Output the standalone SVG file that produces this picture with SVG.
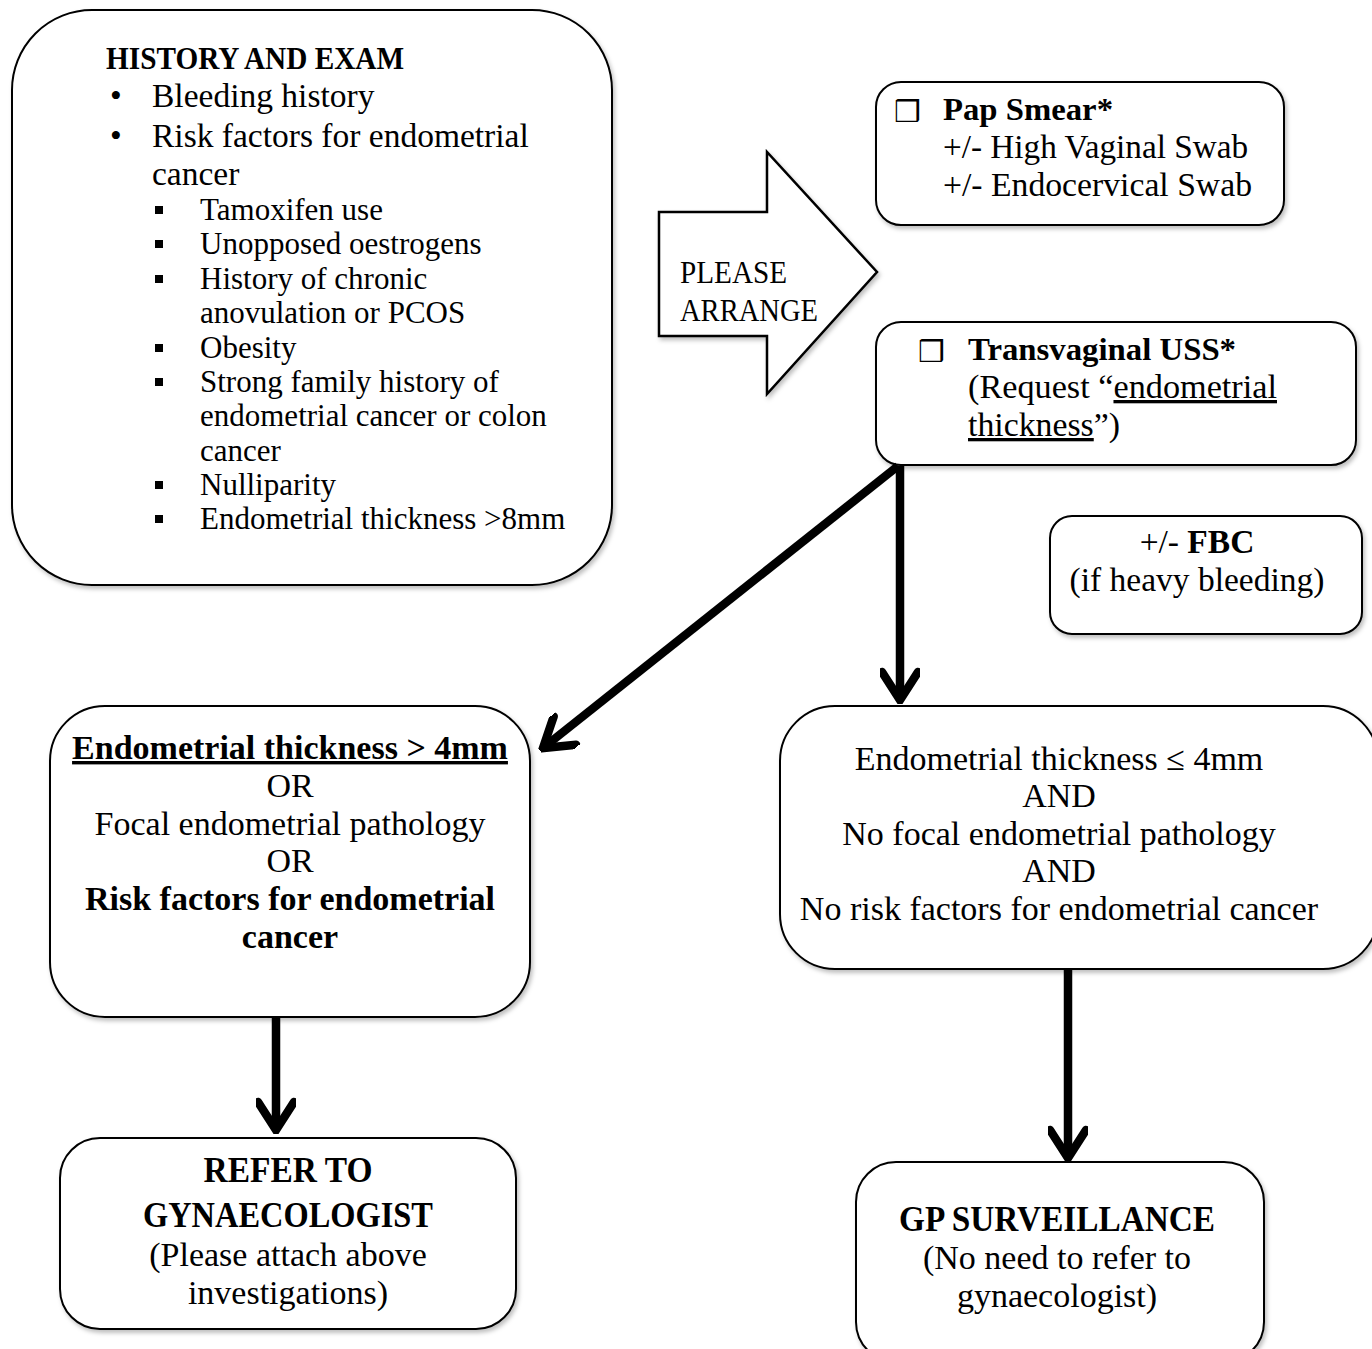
<svg xmlns="http://www.w3.org/2000/svg" width="1372" height="1349" viewBox="0 0 1372 1349">
<style>
.box{fill:#fff;stroke:#000;stroke-width:2;filter:url(#sh)}
text{font-family:"Liberation Serif","Times New Roman",serif;fill:#000}
.b{font-weight:bold}
.m{text-anchor:middle}
.t34{font-size:34px}
.t33{font-size:33.5px}
.t31{font-size:31px}
.conn{stroke:#000;stroke-width:8.5;fill:none;marker-end:url(#chev)}
.chk{font-family:"DejaVu Sans",sans-serif;font-size:30px;font-weight:bold}
</style>
<defs>
<filter id="sh" x="-10%" y="-10%" width="120%" height="120%">
<feDropShadow dx="2" dy="3" stdDeviation="2" flood-color="#000" flood-opacity="0.25"/>
</filter>
<marker id="chev" viewBox="0 0 40 40" refX="36" refY="20" markerWidth="40" markerHeight="40" markerUnits="userSpaceOnUse" orient="auto">
<path d="M8,2 L36,20 L8,38" fill="none" stroke="#000" stroke-width="8.5" stroke-linecap="round" stroke-linejoin="miter"/>
</marker>
</defs>
<rect width="1372" height="1349" fill="#fff"/>

<g id="history">
<rect class="box" x="12" y="10" width="600" height="575" rx="80"/>
<text class="b" x="106" y="69" font-size="31" textLength="298" lengthAdjust="spacingAndGlyphs">HISTORY AND EXAM</text>
<text class="t33" x="110" y="107">•</text>
<text class="t33" x="152" y="107">Bleeding history</text>
<text class="t33" x="110" y="147">•</text>
<text class="t33" x="152" y="147">Risk factors for endometrial</text>
<text class="t33" x="152" y="185">cancer</text>
<g fill="#000">
<rect x="155" y="206" width="8" height="8"/>
<rect x="155" y="240" width="8" height="8"/>
<rect x="155" y="275" width="8" height="8"/>
<rect x="155" y="344" width="8" height="8"/>
<rect x="155" y="378" width="8" height="8"/>
<rect x="155" y="481" width="8" height="8"/>
<rect x="155" y="515" width="8" height="8"/>
</g>
<text class="t31" x="200" y="220">Tamoxifen use</text>
<text class="t31" x="200" y="254">Unopposed oestrogens</text>
<text class="t31" x="200" y="289">History of chronic</text>
<text class="t31" x="200" y="323">anovulation or PCOS</text>
<text class="t31" x="200" y="358">Obesity</text>
<text class="t31" x="200" y="392">Strong family history of</text>
<text class="t31" x="200" y="426">endometrial cancer or colon</text>
<text class="t31" x="200" y="461">cancer</text>
<text class="t31" x="200" y="495">Nulliparity</text>
<text class="t31" x="200" y="529">Endometrial thickness &gt;8mm</text>
</g>

<g id="arrange">
<polygon points="659,212 767,212 767,152 877,272 767,394 767,336 659,336" fill="#fff" stroke="#000" stroke-width="2.5" filter="url(#sh)"/>
<text x="680" y="283" font-size="32" textLength="107" lengthAdjust="spacingAndGlyphs">PLEASE</text>
<text x="680" y="321" font-size="32" textLength="138" lengthAdjust="spacingAndGlyphs">ARRANGE</text>
</g>

<g id="pap">
<rect class="box" x="876" y="82" width="408" height="143" rx="25"/>
<text class="chk" x="894" y="122">❒</text>
<text class="b" x="943" y="120" font-size="32" textLength="170" lengthAdjust="spacingAndGlyphs">Pap Smear*</text>
<text x="943" y="158" font-size="33" textLength="305" lengthAdjust="spacingAndGlyphs">+/- High Vaginal Swab</text>
<text x="943" y="196" font-size="33" textLength="309" lengthAdjust="spacingAndGlyphs">+/- Endocervical Swab</text>
</g>

<g id="uss">
<rect class="box" x="876" y="322" width="480" height="143" rx="25"/>
<text class="chk" x="918" y="362">❒</text>
<text class="b" x="968" y="360" font-size="32" textLength="268" lengthAdjust="spacingAndGlyphs">Transvaginal USS*</text>
<text x="968" y="398" font-size="33" textLength="309" lengthAdjust="spacingAndGlyphs">(Request “<tspan text-decoration="underline">endometrial</tspan></text>
<text x="968" y="436" font-size="33" textLength="152" lengthAdjust="spacingAndGlyphs"><tspan text-decoration="underline">thickness</tspan>”)</text>
</g>

<g id="fbc">
<rect class="box" x="1050" y="516" width="312" height="118" rx="22"/>
<text class="m t33" x="1197" y="553">+/- <tspan class="b">FBC</tspan></text>
<text class="m t33" x="1197" y="591">(if heavy bleeding)</text>
</g>

<g id="cond-yes">
<rect class="box" x="50" y="706" width="480" height="311" rx="55"/>
<text class="m t34 b" x="290" y="759" text-decoration="underline">Endometrial thickness &gt; 4mm</text>
<text class="m t34" x="290" y="797">OR</text>
<text class="m t34" x="290" y="835">Focal endometrial pathology</text>
<text class="m t34" x="290" y="872">OR</text>
<text class="m t34 b" x="290" y="910">Risk factors for endometrial</text>
<text class="m t34 b" x="290" y="948">cancer</text>
</g>

<g id="cond-no">
<rect class="box" x="780" y="706" width="598" height="263" rx="55"/>
<text class="m t34" x="1059" y="770">Endometrial thickness ≤ 4mm</text>
<text class="m t34" x="1059" y="807">AND</text>
<text class="m t34" x="1059" y="845">No focal endometrial pathology</text>
<text class="m t34" x="1059" y="882">AND</text>
<text class="m t34" x="1059" y="920">No risk factors for endometrial cancer</text>
</g>

<g id="refer">
<rect class="box" x="60" y="1138" width="456" height="191" rx="40"/>
<text class="m b" x="288" y="1182" font-size="35" textLength="169" lengthAdjust="spacingAndGlyphs">REFER TO</text>
<text class="m b" x="288" y="1227" font-size="35" textLength="290" lengthAdjust="spacingAndGlyphs">GYNAECOLOGIST</text>
<text class="m t34" x="288" y="1266">(Please attach above</text>
<text class="m t34" x="288" y="1304">investigations)</text>
</g>

<g id="gp">
<rect class="box" x="856" y="1162" width="408" height="200" rx="40"/>
<text class="m b" x="1057" y="1231" font-size="35" textLength="316" lengthAdjust="spacingAndGlyphs">GP SURVEILLANCE</text>
<text class="m t34" x="1057" y="1269">(No need to refer to</text>
<text class="m t34" x="1057" y="1307">gynaecologist)</text>
</g>

<g id="connectors">
<line class="conn" x1="898" y1="466" x2="543" y2="748"/>
<line class="conn" x1="900" y1="466" x2="900" y2="700"/>
<line class="conn" x1="276" y1="1017" x2="276" y2="1130"/>
<line class="conn" x1="1068" y1="969" x2="1068" y2="1158"/>
</g>
</svg>
